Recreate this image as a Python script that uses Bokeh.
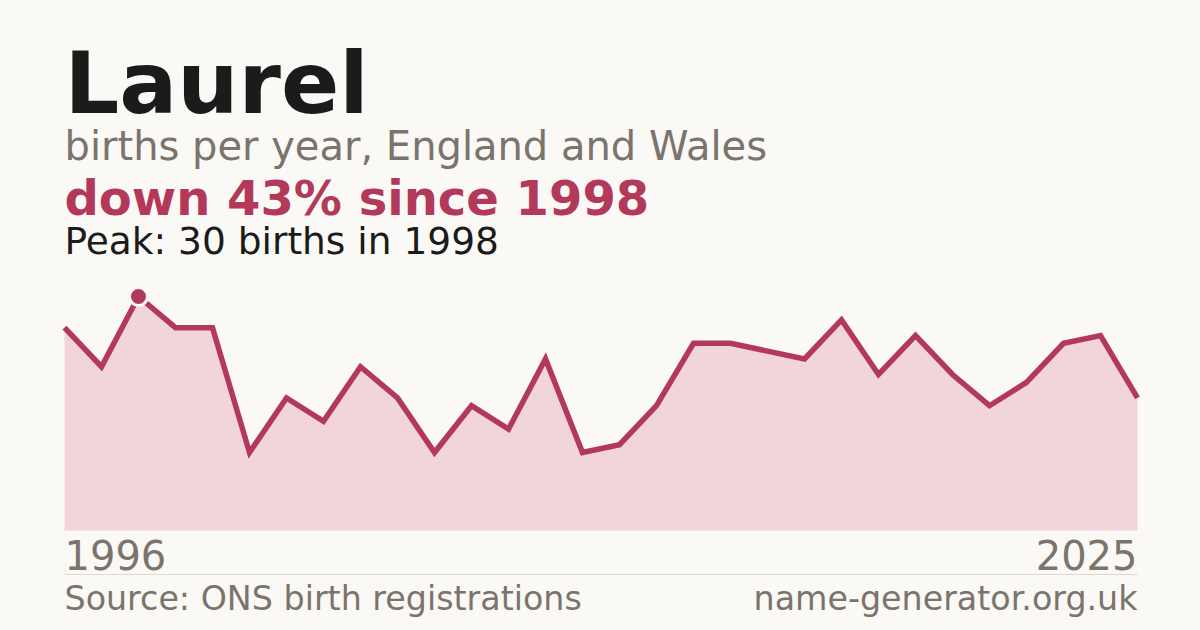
from bokeh.plotting import figure
from bokeh.models import Range1d, Label
from bokeh.embed import file_html
from bokeh.resources import INLINE

# ---- data ----
years = list(range(1996, 2026))
births = [26, 21, 30, 26, 26, 10, 17, 14, 21, 17,
          10, 16, 13, 22, 10, 11, 16, 24, 24, 23,
          22, 27, 20, 25, 20, 16, 19, 24, 25, 17]
name = "Laurel"
subtitle = "births per year, England and Wales"
source_text = "Source: ONS birth registrations"
site_text = "name-generator.org.uk"

peak_val = max(births)
peak_year = years[births.index(peak_val)]
last_val = births[-1]
change_pct = round((peak_val - last_val) / peak_val * 100)
headline = f"down {change_pct}% since {peak_year}"
peak_text = f"Peak: {peak_val} births in {peak_year}"

# ---- style / layout (pixels) ----
BG = "#faf9f5"
RED = "#b3395a"
FILL = "#f1d5da"
GREY = "#7a746c"
DARK = "#1b1b1b"
RULE = "#dcd9d3"
FONT = "DejaVu Sans"

W, H = 1200, 630
PL, PR = 64, 1137        # chart left / right
PB, PT = 530, 272.6      # chart baseline / top
RULE_Y = 574
SHIFT = 0.38             # baseline correction (fraction of font size)

y_max = peak_val * 1.1
ppx = (PR - PL) / (years[-1] - years[0])
ppy = (PB - PT) / y_max
x0 = years[0] - PL / ppx
x1 = years[-1] + (W - PR) / ppx
y0 = -(H - PB) / ppy
y1 = y_max + PT / ppy
rule_val = -(RULE_Y - PB) / ppy

p = figure(width=W, height=H, output_backend="svg", toolbar_location=None,
           x_range=Range1d(x0, x1), y_range=Range1d(y0, y1),
           min_border=0, min_border_left=0, min_border_right=0,
           min_border_top=0, min_border_bottom=0,
           background_fill_color=BG, border_fill_color=BG)
p.outline_line_color = None
p.xaxis.visible = False
p.yaxis.visible = False
p.grid.visible = False

p.varea(x=years, y1=[0] * len(years), y2=births, fill_color=FILL)
p.line(x=years, y=births, line_color=RED, line_width=5.5,
       line_join="miter", line_cap="butt")
p.scatter(x=[peak_year], y=[peak_val], size=18, marker="circle",
          fill_color=RED, line_color=BG, line_width=3)
p.segment(x0=[years[0]], x1=[years[-1]], y0=[rule_val], y1=[rule_val],
          line_color=RULE, line_width=1)

def lab(text, x, baseline, size, color, bold=False, align="left", x_units="screen"):
    p.add_layout(Label(x=x, y=H - baseline + SHIFT * size,
                       x_units=x_units, y_units="screen", text=text,
                       text_font=FONT, text_font_size=f"{size}px",
                       text_font_style="bold" if bold else "normal",
                       text_color=color, text_align=align,
                       text_baseline="alphabetic"))

lab(name, PL, 115, 86, DARK, bold=True)
lab(subtitle, PL, 161, 40, GREY)
lab(headline, PL, 216, 48, RED, bold=True)
lab(peak_text, PL, 255, 37.5, DARK)
lab(str(years[0]), years[0], 570, 40, GREY, x_units="data")
lab(str(years[-1]), years[-1], 570, 40, GREY, align="right", x_units="data")
lab(source_text, PL, 611, 33.3, GREY)
lab(site_text, PR, 611, 33.3, GREY, align="right")

open("out.html", "w").write(file_html(p, INLINE))
